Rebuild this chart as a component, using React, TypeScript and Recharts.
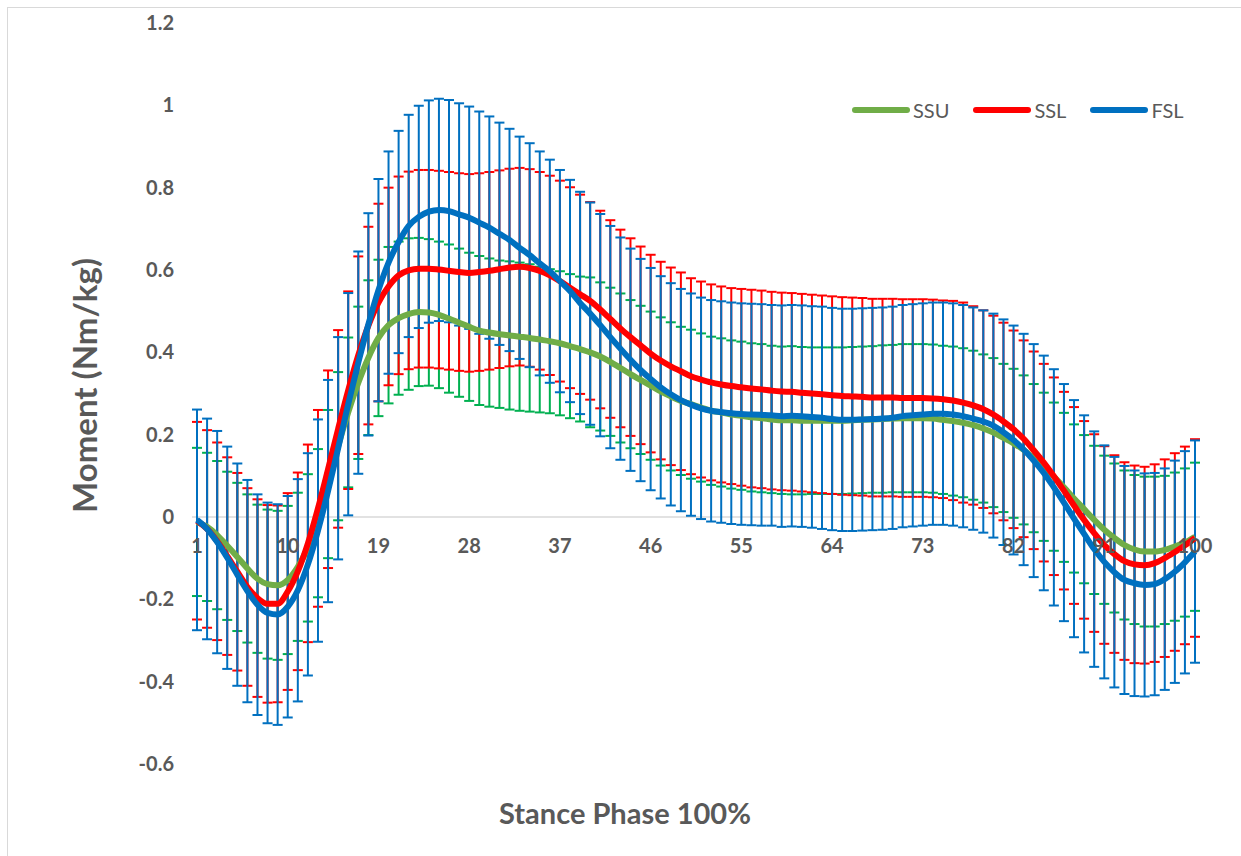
import React from "react";
import { LineChart, Line, XAxis, YAxis, ErrorBar, ReferenceLine, Legend, Label } from "recharts";

const FONT = "Lato, 'Open Sans', sans-serif";
const TEXT = "#595959";

// stance phase (%), one category per sample
const phase = [
  1, 2, 3, 4, 5, 6, 7, 8, 9, 10, 11, 12, 13, 14, 15, 16, 17, 18, 19, 20,
  21, 22, 23, 24, 25, 26, 27, 28, 29, 30, 31, 32, 33, 34, 35, 36, 37, 38, 39, 40,
  41, 42, 43, 44, 45, 46, 47, 48, 49, 50, 51, 52, 53, 54, 55, 56, 57, 58, 59, 60,
  61, 62, 63, 64, 65, 66, 67, 68, 69, 70, 71, 72, 73, 74, 75, 76, 77, 78, 79, 80,
  81, 82, 83, 84, 85, 86, 87, 88, 89, 90, 91, 92, 93, 94, 95, 96, 97, 98, 99, 100,
];

// SSU mean / SD
const ssuMean = [
  -0.012, -0.024, -0.044, -0.07, -0.097, -0.125, -0.15, -0.163, -0.166, -0.153,
  -0.121, -0.075, -0.015, 0.08, 0.172, 0.254, 0.326, 0.387, 0.435, 0.466,
  0.483, 0.493, 0.498, 0.497, 0.491, 0.482, 0.472, 0.462, 0.453, 0.448,
  0.444, 0.441, 0.438, 0.435, 0.431, 0.427, 0.422, 0.415, 0.408, 0.4,
  0.39, 0.377, 0.362, 0.347, 0.333, 0.319, 0.305, 0.293, 0.282, 0.274,
  0.266, 0.258, 0.254, 0.249, 0.246, 0.242, 0.24, 0.237, 0.235, 0.235,
  0.234, 0.234, 0.234, 0.234, 0.234, 0.235, 0.236, 0.237, 0.238, 0.239,
  0.24, 0.24, 0.24, 0.239, 0.236, 0.233, 0.229, 0.223, 0.215, 0.205,
  0.192, 0.179, 0.163, 0.143, 0.122, 0.098, 0.072, 0.045, 0.019, -0.007,
  -0.031, -0.051, -0.068, -0.079, -0.084, -0.084, -0.08, -0.072, -0.062, -0.048,
];
const ssuSd = [
  0.18, 0.18, 0.18, 0.18, 0.18, 0.18, 0.18, 0.181, 0.181, 0.18,
  0.18, 0.179, 0.18, 0.18, 0.18, 0.182, 0.185, 0.188, 0.19, 0.19,
  0.186, 0.184, 0.18, 0.178, 0.178, 0.18, 0.18, 0.18, 0.181, 0.18,
  0.179, 0.18, 0.18, 0.179, 0.177, 0.175, 0.175, 0.175, 0.176, 0.182,
  0.18, 0.18, 0.181, 0.18, 0.18, 0.18, 0.18, 0.18, 0.18, 0.181,
  0.18, 0.18, 0.18, 0.18, 0.18, 0.18, 0.18, 0.179, 0.179, 0.18,
  0.179, 0.178, 0.178, 0.178, 0.178, 0.178, 0.178, 0.178, 0.179, 0.179,
  0.18, 0.18, 0.18, 0.18, 0.18, 0.181, 0.181, 0.181, 0.18, 0.181,
  0.18, 0.181, 0.181, 0.18, 0.18, 0.18, 0.181, 0.18, 0.18, 0.18,
  0.18, 0.181, 0.181, 0.181, 0.182, 0.182, 0.18, 0.18, 0.18, 0.18,
];

// SSL mean / SD
const sslMean = [
  -0.009, -0.029, -0.059, -0.095, -0.133, -0.17, -0.197, -0.211, -0.211, -0.181,
  -0.132, -0.064, 0.021, 0.116, 0.214, 0.308, 0.393, 0.465, 0.521, 0.56,
  0.587, 0.599, 0.603, 0.603, 0.601, 0.598, 0.595, 0.593, 0.595, 0.598,
  0.602, 0.606, 0.608, 0.605, 0.598, 0.587, 0.573, 0.557, 0.541, 0.525,
  0.504, 0.481, 0.458, 0.437, 0.417, 0.397, 0.38, 0.366, 0.354, 0.342,
  0.334, 0.327, 0.322, 0.318, 0.315, 0.312, 0.31, 0.307, 0.305, 0.304,
  0.302, 0.3, 0.298, 0.296, 0.294, 0.293, 0.292, 0.29, 0.29, 0.29,
  0.289, 0.289, 0.289, 0.288, 0.286, 0.283, 0.278, 0.271, 0.262, 0.249,
  0.232, 0.213, 0.19, 0.162, 0.132, 0.099, 0.064, 0.028, -0.007, -0.039,
  -0.068, -0.09, -0.107, -0.115, -0.117, -0.112, -0.1, -0.085, -0.069, -0.051,
];
const sslSd = [
  0.24, 0.24, 0.24, 0.24, 0.24, 0.24, 0.24, 0.24, 0.239, 0.239,
  0.24, 0.24, 0.239, 0.24, 0.24, 0.24, 0.24, 0.24, 0.24, 0.24,
  0.24, 0.24, 0.24, 0.24, 0.24, 0.24, 0.24, 0.24, 0.24, 0.24,
  0.24, 0.24, 0.24, 0.24, 0.24, 0.242, 0.244, 0.244, 0.242, 0.24,
  0.24, 0.24, 0.24, 0.24, 0.24, 0.24, 0.24, 0.24, 0.24, 0.238,
  0.238, 0.238, 0.238, 0.238, 0.239, 0.24, 0.24, 0.24, 0.24, 0.24,
  0.24, 0.24, 0.24, 0.24, 0.24, 0.24, 0.24, 0.24, 0.24, 0.24,
  0.24, 0.24, 0.24, 0.24, 0.24, 0.242, 0.243, 0.241, 0.24, 0.24,
  0.24, 0.24, 0.239, 0.24, 0.24, 0.24, 0.24, 0.239, 0.24, 0.24,
  0.24, 0.24, 0.24, 0.24, 0.239, 0.24, 0.24, 0.24, 0.24, 0.24,
];

// FSL mean / SD
const fslMean = [
  -0.007, -0.029, -0.061, -0.099, -0.14, -0.18, -0.213, -0.233, -0.237, -0.218,
  -0.178, -0.115, -0.033, 0.063, 0.167, 0.274, 0.375, 0.468, 0.551, 0.618,
  0.668, 0.707, 0.729, 0.742, 0.746, 0.743, 0.735, 0.727, 0.715, 0.703,
  0.688, 0.673, 0.654, 0.636, 0.616, 0.597, 0.573, 0.549, 0.52, 0.494,
  0.466, 0.437, 0.409, 0.382, 0.357, 0.335, 0.315, 0.298, 0.284, 0.273,
  0.264, 0.258, 0.255, 0.252, 0.25, 0.249, 0.248, 0.247, 0.245, 0.246,
  0.245, 0.243, 0.241, 0.238, 0.236, 0.236, 0.237, 0.238, 0.239, 0.241,
  0.245, 0.247, 0.249, 0.251, 0.251, 0.249, 0.245, 0.239, 0.232, 0.222,
  0.206, 0.187, 0.164, 0.137, 0.107, 0.072, 0.035, -0.004, -0.041, -0.078,
  -0.109, -0.134, -0.153, -0.161, -0.165, -0.163, -0.151, -0.133, -0.11, -0.084,
];
const fslSd = [
  0.268, 0.268, 0.27, 0.27, 0.27, 0.27, 0.268, 0.268, 0.268, 0.269,
  0.27, 0.27, 0.27, 0.27, 0.27, 0.27, 0.27, 0.27, 0.27, 0.27,
  0.27, 0.27, 0.27, 0.27, 0.27, 0.27, 0.27, 0.27, 0.27, 0.27,
  0.27, 0.27, 0.27, 0.272, 0.272, 0.271, 0.27, 0.27, 0.27, 0.27,
  0.27, 0.27, 0.27, 0.27, 0.27, 0.27, 0.27, 0.27, 0.27, 0.27,
  0.269, 0.269, 0.269, 0.269, 0.269, 0.269, 0.269, 0.268, 0.269, 0.269,
  0.269, 0.269, 0.27, 0.27, 0.27, 0.27, 0.27, 0.27, 0.27, 0.27,
  0.27, 0.27, 0.27, 0.27, 0.27, 0.27, 0.27, 0.27, 0.27, 0.272,
  0.274, 0.278, 0.281, 0.283, 0.285, 0.287, 0.288, 0.288, 0.288, 0.286,
  0.283, 0.28, 0.277, 0.274, 0.271, 0.27, 0.269, 0.27, 0.27, 0.27,
];

const xTicks = [1, 10, 19, 28, 37, 46, 55, 64, 73, 82, 91, 100];
const yTicks = [-0.6, -0.4, -0.2, 0, 0.2, 0.4, 0.6, 0.8, 1, 1.2];

const data = phase.map((p, i) => ({
  phase: p,
  ssu: ssuMean[i],
  ssuSd: ssuSd[i],
  ssl: sslMean[i],
  sslSd: sslSd[i],
  fsl: fslMean[i],
  fslSd: fslSd[i],
}));

const W = 1241;
const H = 856;
const M = { top: 23, right: 41, bottom: 0, left: 0 };
const Y_AXIS_W = 192;
const X_AXIS_H = 92;
const PLOT_H = H - M.top - M.bottom - X_AXIS_H;
const Y_MIN = yTicks[0];
const Y_MAX = yTicks[yTicks.length - 1];
// x labels sit just under the zero line (Excel "next to axis")
const zeroFromBottom = (PLOT_H * (0 - Y_MIN)) / (Y_MAX - Y_MIN);
const X_TICK_DY = -zeroFromBottom + 14;

const series = [
  { key: "ssu", name: "SSU", line: "#70AD47", bar: "#00B050" },
  { key: "ssl", name: "SSL", line: "#FF0000", bar: "#FF0000" },
  { key: "fsl", name: "FSL", line: "#0070C0", bar: "#0070C0" },
];
const legendOrder = series.map((s) => s.name);

function LegendContent(props: any) {
  // the hidden error-bar carriers come through with type "none"; drop them
  const items = (props.payload || [])
    .filter((e: any) => e.type !== "none" && legendOrder.includes(e.value))
    .sort((a: any, b: any) => legendOrder.indexOf(a.value) - legendOrder.indexOf(b.value));
  return (
    <div style={{ display: "flex", alignItems: "center", fontFamily: FONT, fontSize: 20, color: TEXT }}>
      {items.map((entry: any) => (
        <div key={entry.value} style={{ display: "flex", alignItems: "center", marginRight: 24 }}>
          <svg width={58} height={10}>
            <line x1={3} y1={5} x2={55} y2={5} stroke={entry.color} strokeWidth={6} strokeLinecap="round" />
          </svg>
          <span style={{ marginLeft: 3 }}>{entry.value}</span>
        </div>
      ))}
    </div>
  );
}

export default function App() {
  return (
    <div style={{ position: "absolute", left: 0, top: 0, width: W, height: H, background: "#fff", overflow: "hidden" }}>
      <div style={{ position: "absolute", left: 7, top: 7, width: W, height: H, border: "1px solid #D9D9D9" }} />
      <div style={{ position: "absolute", left: 0, top: 0 }}>
        <LineChart width={W} height={H} data={data} margin={M} style={{ fontFamily: FONT }}>
          <XAxis
            dataKey="phase"
            ticks={xTicks}
            interval={0}
            height={X_AXIS_H}
            axisLine={false}
            tickLine={false}
            padding={{ left: 5, right: 5 }}
            tick={{ fill: TEXT, fontSize: 20, fontWeight: 700, fontFamily: FONT, dy: X_TICK_DY }}
          >
            <Label value="Stance Phase 100%" position="center" dx={-71} dy={4} fill={TEXT} fontSize={29} fontWeight={700} fontFamily={FONT} />
          </XAxis>
          <YAxis
            type="number"
            domain={[Y_MIN, Y_MAX]}
            ticks={yTicks}
            allowDataOverflow
            width={Y_AXIS_W}
            axisLine={false}
            tickLine={false}
            tickSize={6}
            tickMargin={12}
            tickFormatter={(v: number) => String(v)}
            tick={{ fill: TEXT, fontSize: 20, fontWeight: 700, fontFamily: FONT }}
          >
            <Label value="Moment (Nm/kg)" angle={-90} position="center" dx={-11} dy={-8} fill={TEXT} fontSize={33} fontWeight={700} fontFamily={FONT} />
          </YAxis>
          <ReferenceLine y={0} stroke="#D9D9D9" strokeWidth={1.5} />

          {/* error bars first so the mean curves sit on top */}
          {series.map((s) => (
            <Line
              key={s.key + "-err"}
              dataKey={s.key}
              stroke="none"
              dot={false}
              activeDot={false}
              legendType="none"
              isAnimationActive={false}
            >
              <ErrorBar dataKey={s.key + "Sd"} direction="y" stroke={s.bar} strokeWidth={2} width={5} isAnimationActive={false} />
            </Line>
          ))}

          {series.map((s) => (
            <Line
              key={s.key}
              type="monotone"
              dataKey={s.key}
              name={s.name}
              stroke={s.line}
              strokeWidth={6}
              dot={false}
              activeDot={false}
              isAnimationActive={false}
            />
          ))}

          <Legend
            layout="horizontal"
            verticalAlign="middle"
            align="center"
            content={<LegendContent />}
            wrapperStyle={{ top: 98, left: 852, width: 350 }}
          />
        </LineChart>
      </div>
    </div>
  );
}
